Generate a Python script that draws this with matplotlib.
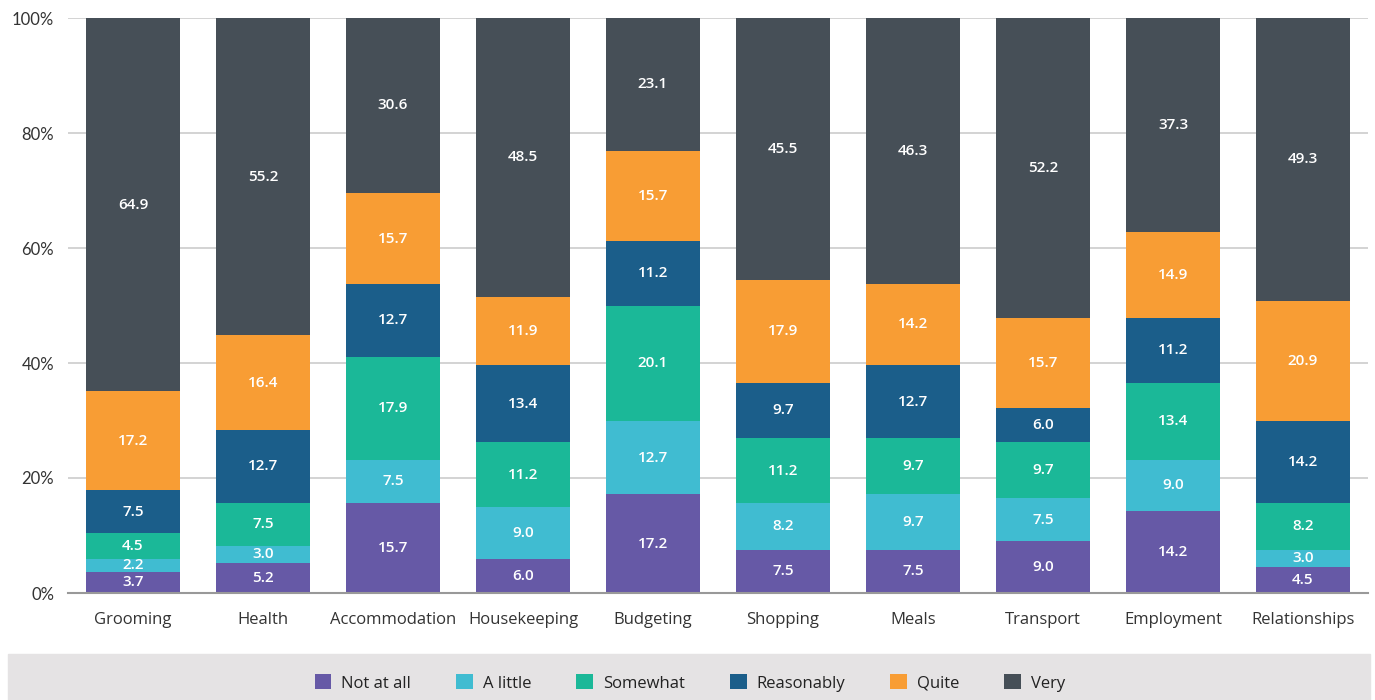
import numpy as np
import matplotlib.pyplot as plt
from matplotlib.patches import Rectangle

# Share of responses per area, stacked bottom to top
categories = ['Grooming', 'Health', 'Accommodation', 'Housekeeping', 'Budgeting',
              'Shopping', 'Meals', 'Transport', 'Employment', 'Relationships']
levels = ['Not at all', 'A little', 'Somewhat', 'Reasonably', 'Quite', 'Very']

not_at_all = [3.7, 5.2, 15.7, 6.0, 17.2, 7.5, 7.5, 9.0, 14.2, 4.5]
a_little = [2.2, 3.0, 7.5, 9.0, 12.7, 8.2, 9.7, 7.5, 9.0, 3.0]
somewhat = [4.5, 7.5, 17.9, 11.2, 20.1, 11.2, 9.7, 9.7, 13.4, 8.2]
reasonably = [7.5, 12.7, 12.7, 13.4, 11.2, 9.7, 12.7, 6.0, 11.2, 14.2]
quite = [17.2, 16.4, 15.7, 11.9, 15.7, 17.9, 14.2, 15.7, 14.9, 20.9]
very = [64.9, 55.2, 30.6, 48.5, 23.1, 45.5, 46.3, 52.2, 37.3, 49.3]

y_ticks = [0, 20, 40, 60, 80, 100]
y_tick_labels = ['0%', '20%', '40%', '60%', '80%', '100%']

colors = ['#6659a6', '#40bcd1', '#1bb898', '#1b5e8a', '#f89d34', '#464f57']

plt.rcParams['font.family'] = ['Open Sans', 'DejaVu Sans']

fig = plt.figure(figsize=(13.75, 7), dpi=100)
ax = fig.add_axes([68 / 1375, 107 / 700, 1300 / 1375, 575 / 700])

series = [not_at_all, a_little, somewhat, reasonably, quite, very]
x = np.arange(len(categories))
bottom = np.zeros(len(categories))
for name, vals, col in zip(levels, series, colors):
    vals = np.array(vals)
    ax.bar(x, vals, bottom=bottom, width=0.723, color=col, label=name, zorder=3)
    for xi, b, v in zip(x, bottom, vals):
        ax.text(xi, b + v / 2, f'{v:.1f}', ha='center', va='center',
                color='white', fontsize=11, fontweight='semibold', zorder=4)
    bottom += vals

ax.set_xlim(-0.5, len(categories) - 0.5)
ax.set_ylim(0, 100)
ax.set_yticks(y_ticks)
ax.set_yticklabels(y_tick_labels, fontsize=12, color='#333333', family=['Lato', 'DejaVu Sans'])
ax.set_xticks(x)
ax.set_xticklabels(categories, fontsize=12, color='#333333')
ax.tick_params(axis='both', length=0)
ax.tick_params(axis='x', pad=14)
ax.tick_params(axis='y', pad=10)
ax.yaxis.grid(True, color='#cccccc', linewidth=1.2, zorder=0)
for s in ['top', 'right', 'left']:
    ax.spines[s].set_visible(False)
ax.spines['bottom'].set_color('#999999')
ax.spines['bottom'].set_linewidth(1.5)
ax.spines['bottom'].set_zorder(5)

# grey legend band along the bottom
fig.patches.append(Rectangle((8 / 1375, 0), 1362 / 1375, 46 / 700,
                             transform=fig.transFigure, color='#e5e3e4', zorder=0))
fig.legend(loc='center', bbox_to_anchor=(690 / 1375, 17 / 700), ncol=6, frameon=False,
           fontsize=12, handlelength=1.0, handleheight=1.0, handletextpad=0.6,
           columnspacing=2.7, labelcolor='#222222')

plt.savefig('out.png', dpi=100)
plt.close()
